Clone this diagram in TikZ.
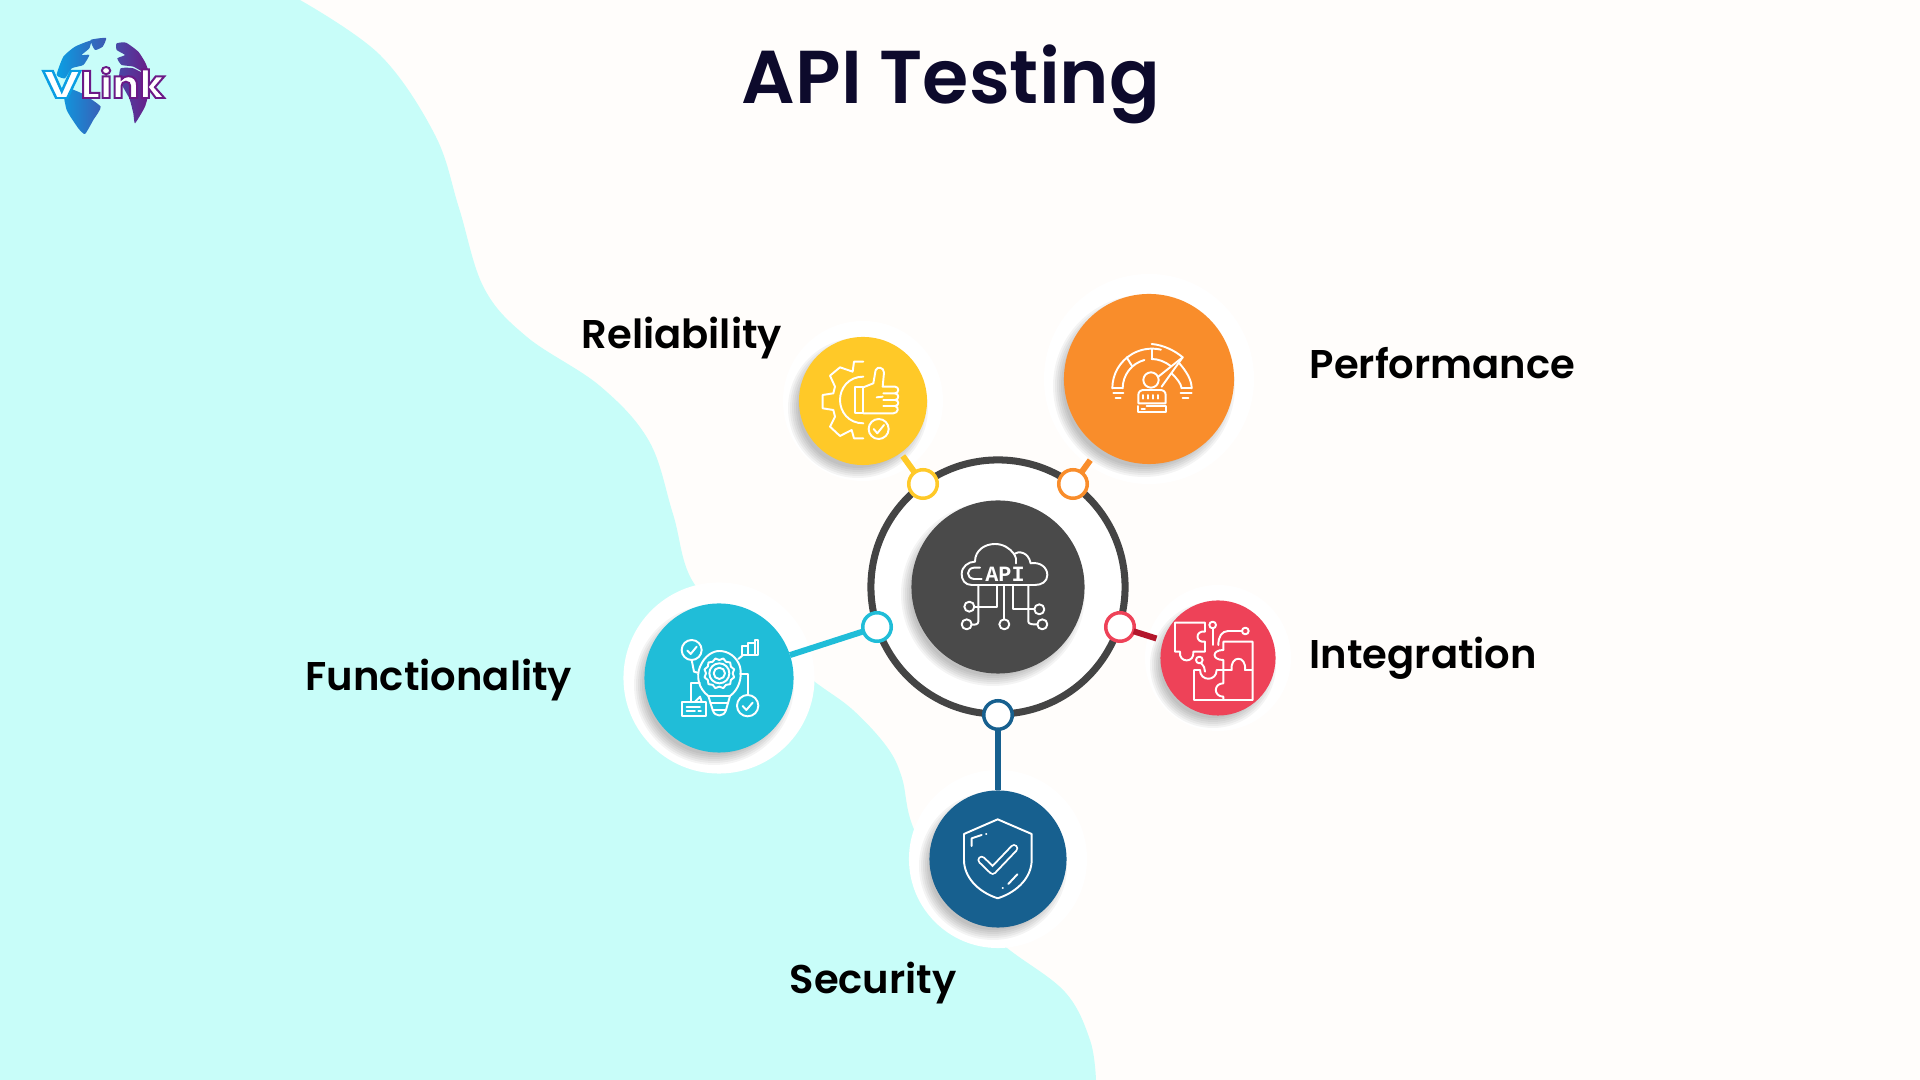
\documentclass[tikz,border=0pt]{standalone}
\usepackage{fontspec}
\usetikzlibrary{calc}
\setmainfont{Poppins}[BoldFont=Poppins SemiBold]
\newfontfamily\logofont{Poppins Bold}
\newfontfamily\apifont{Liberation Mono}
\definecolor{pagebg}{HTML}{FFFDFB}
\definecolor{mint}{HTML}{C8FDF9}
\definecolor{titleink}{HTML}{0D0A2C}
\definecolor{ringgrey}{HTML}{444444}
\definecolor{hubgrey}{HTML}{4A4A4A}
\definecolor{relyellow}{HTML}{FFC928}
\definecolor{perforange}{HTML}{F98D2B}
\definecolor{functeal}{HTML}{20BDD8}
\definecolor{integred}{HTML}{EE4258}
\definecolor{integdark}{HTML}{B3162B}
\definecolor{secblue}{HTML}{17608F}
\definecolor{logoblue}{HTML}{0A9FE3}
\definecolor{logopurple}{HTML}{6B1A86}
\tikzset{
	disc/.style={circle,inner sep=0pt,outer sep=0pt},
	halo/.style={disc,fill=white},
	joint/.style={disc,fill=white,line width=1pt,minimum size=.285cm},
	link/.style={line width=1.7pt},
	label/.style={anchor=base west,font=\bfseries\fontsize{11.4}{13}\selectfont,text=black},
	logotext/.style={inner sep=0pt,anchor=base west,text=white,font=\logofont\fontsize{11}{13}\selectfont},
	iconline/.style={draw=white,line width=.55pt,line cap=round,line join=round},
}
% soft shadow under a disc: x, y, radius
\newcommand{\softshadow}[3]{
	\foreach \k in {-4,-2,...,6}
		\fill[black,opacity=.045] (#1-5,#2+7) circle ({#3+\k});
}
% white letters with a stroked edge: r g b of the edge, text
\newcommand{\strokedtext}[2]{\special{pdf:code q 2 Tr 0.55 w #1 RG}#2\special{pdf:code Q}}
\begin{document}
\begin{tikzpicture}[x=.01cm,y=-.01cm]
	\useasboundingbox (0,0) rectangle (1920,1080);
	\fill[pagebg] (0,0) rectangle (1920,1080);
	% mint blob on the left
	\fill[mint] (0,0) -- plot[smooth,tension=.6] coordinates {(300,0) (380,55) (435,135) (459,208) (484,288) (527,337) (600,386) (649,441) (673,514) (695,585) (760,640) (815,682) (853,710) (887,747) (902,778) (913,827) (950,900) (1007,948) (1065,992) (1090,1040) (1096,1080)} -- (0,1080) -- cycle;

	% logo
	\begin{scope}[scale=1/3]
		\path[left color=logoblue,right color=logopurple]
			plot[smooth cycle,tension=.3] coordinates {(170,225) (190,170) (225,140) (272,122) (268,145) (245,165) (268,165) (250,195) (215,205) (195,235)}
			plot[smooth cycle,tension=.3] coordinates {(272,120) (318,114) (308,140) (285,150)}
			plot[smooth cycle,tension=.3] coordinates {(350,130) (378,128) (415,155) (437,190) (447,225) (400,200) (365,195) (352,175) (375,165) (350,150)}
			plot[smooth cycle,tension=.3] coordinates {(362,205) (400,205) (447,232) (448,270) (435,320) (405,370) (400,340) (388,295) (358,240)}
			plot[smooth cycle,tension=.3] coordinates {(190,262) (245,280) (302,320) (280,360) (255,402) (235,385) (200,330)};
	\end{scope}
	\node[logotext] (logov) at (42,98) {\scalebox{1.35}[1]{\strokedtext{0.04 0.62 0.89}{V}}};
	\node[logotext] (logolink) at (80,98) {\scalebox{1.05}[1]{\strokedtext{0.42 0.10 0.53}{Link}}};

	% title and labels
	\node[anchor=base,inner sep=0pt,text=titleink,font=\bfseries\fontsize{21.3}{26}\selectfont] (title) at (951,104) {API Testing};
	\node[label,inner sep=0pt] (lblrel) at (581,349) {Reliability};
	\node[label,inner sep=0pt] (lblperf) at (1309,379) {Performance};
	\node[label,inner sep=0pt] (lblinteg) at (1309,669) {Integration};
	\node[label,inner sep=0pt] (lblfunc) at (305,691) {Functionality};
	\node[label,inner sep=0pt] (lblsec) at (789,994) {Security};

	% white halos
	\node[halo,minimum size=1.91cm] (halofunc) at (719,678) {};
	\node[halo,minimum size=1.78cm] (halosec) at (998,859) {};
	\node[halo,minimum size=1.60cm] (halorel) at (863,401) {};
	\node[halo,minimum size=2.10cm] (haloperf) at (1149,379) {};
	\node[halo,minimum size=1.46cm] (halointeg) at (1218,658) {};

	% hub
	\node[disc,draw=ringgrey,fill=white,line width=2pt,minimum size=2.54cm] (ring) at (998,587) {};
	\softshadow{998}{587}{86}
	\node[disc,fill=hubgrey,minimum size=1.73cm] (hub) at (998,587) {};

	% topic discs
	\softshadow{863}{401}{64}
	\softshadow{1149}{379}{85}
	\softshadow{719}{678}{74}
	\softshadow{1218}{658}{57}
	\softshadow{998}{859}{68}
	\node[disc,fill=relyellow,minimum size=1.28cm] (rel) at (863,401) {};
	\node[disc,fill=perforange,minimum size=1.70cm] (perf) at (1149,379) {};
	\node[disc,fill=functeal,minimum size=1.49cm] (func) at (719,678) {};
	\node[disc,fill=integred,minimum size=1.15cm] (integ) at (1218,658) {};
	\node[disc,fill=secblue,minimum size=1.37cm] (sec) at (998,859) {};

	% joints on the ring
	\node[joint,draw=relyellow] (jrel) at (923,484) {};
	\node[joint,draw=perforange] (jperf) at (1073,484) {};
	\node[joint,draw=functeal] (jfunc) at (877,627) {};
	\node[joint,draw=integred] (jinteg) at (1120,627) {};
	\node[joint,draw=secblue] (jsec) at (998,715) {};

	% links
	\draw[link,relyellow,shorten >=1.1pt] (jrel) -- (rel);
	\draw[link,perforange,shorten >=4.3pt] (jperf) -- (perf);
	\draw[link,functeal] (jfunc) -- (func);
	\draw[link,integdark,shorten >=2pt] (jinteg) -- (integ);
	\draw[link,secblue] (jsec) -- (sec);

	% thumb and gear
	\begin{scope}[shift={(780,280)},scale=1/3]
		\draw[iconline] (250,245) -- (222,245) -- (218,275) -- (180,262) -- (150,287) -- (165,320) -- (160,340) -- (128,345) -- (128,385) -- (160,390) -- (165,410) -- (150,440) -- (180,468) -- (215,450) -- (222,475) -- (250,475);
		\draw[iconline] (250,290) .. controls (205,290) and (180,325) .. (180,360) .. controls (180,395) and (205,430) .. (250,430);
		\draw[iconline] (225,322) rectangle (250,400);
		\draw[iconline] (250,322) -- (280,310) -- (287,270) .. controls (292,258) and (312,262) .. (312,278) -- (308,320) -- (345,320) .. controls (358,320) and (358,340) .. (345,340) -- (310,340);
		\draw[iconline] (345,340) .. controls (358,340) and (358,360) .. (345,360) -- (310,360);
		\draw[iconline] (345,360) .. controls (358,360) and (358,378) .. (345,378) -- (310,378);
		\draw[iconline] (345,378) .. controls (358,380) and (355,400) .. (340,400) -- (250,400);
		\draw[iconline] (290,352) -- (308,350);
		\draw[iconline] (296,447) circle (30);
		\draw[iconline] (281,447) -- (292,460) -- (312,435);
	\end{scope}
	% gauge and person
	\begin{scope}[shift={(780,280)},scale=1/3]
		\draw[iconline] (997,325) arc[start angle=180,end angle=283,radius=119];
		\draw[iconline] (1028,325) arc[start angle=180,end angle=255,radius=88];
		\draw[iconline] (1115,207) -- (1115,237);
		\draw[iconline] (1040,232) -- (1056,258);
		\draw[iconline] (1115,237) .. controls (1135,237) and (1155,245) .. (1172,258);
		\draw[iconline] (1115,192) .. controls (1150,195) and (1185,212) .. (1208,232);
		\draw[iconline] (1198,250) .. controls (1220,275) and (1235,300) .. (1235,325);
		\draw[iconline] (1175,280) .. controls (1190,295) and (1203,310) .. (1205,325);
		\draw[iconline] (997,325) -- (1028,325);
		\draw[iconline] (1205,325) -- (1235,325);
		\draw[iconline] (1000,340) -- (1030,340);
		\draw[iconline] (1202,340) -- (1235,340);
		\draw[iconline] (1007,355) -- (1022,355);
		\draw[iconline] (1208,355) -- (1225,355);
		\draw[iconline] (1208,232) -- (1135,290);
		\draw[iconline] (1208,232) -- (1145,320);
		\draw[iconline] (1113,300) circle (23);
		\draw[iconline] (1075,370) -- (1075,345) .. controls (1075,335) and (1082,330) .. (1092,330) -- (1140,330) .. controls (1150,330) and (1157,335) .. (1157,345) -- (1157,370) -- cycle;
		\draw[iconline] (1075,378) -- (1075,397) -- (1158,397) -- (1158,378) -- (1100,378);
		\draw[iconline] (1085,388) -- (1095,388);
		\foreach \tx in {1090,1105,1120,1135}
			\draw[iconline] (\tx,345) -- (\tx,356);
	\end{scope}
	% bulb with gear
	\begin{scope}[shift={(620,480)},scale=1/3]
		\draw[iconline] (215,510) circle (30);
		\draw[iconline] (202,512) -- (212,522) -- (230,500);
		\draw[iconline] (215,540) -- (222,575) -- (232,578);
		\draw[iconline] (365,497) rectangle (385,525);
		\draw[iconline] (385,488) rectangle (405,525);
		\draw[iconline] (405,480) rectangle (415,525);
		\draw[iconline] (355,537) -- (368,526);
		\draw[iconline] (298,580) circle (17);
		\draw[iconline] (298,580) circle (30);
		\foreach \a in {0,30,...,330}
			\draw[iconline] ($(298,580)+(\a:40)$) -- ($(298,580)+(\a+15:46)$) -- ($(298,580)+(\a+30:40)$);
		\draw[iconline] (265,648) .. controls (235,625) and (228,590) .. (240,560) .. controls (255,525) and (280,513) .. (298,513) .. controls (325,513) and (350,530) .. (360,560) .. controls (368,595) and (355,630) .. (330,648);
		\draw[iconline] (265,648) -- (330,648) -- (318,690) .. controls (312,712) and (284,712) .. (278,690) -- cycle;
		\draw[iconline] (271,668) -- (324,668);
		\draw[iconline] (278,690) -- (318,690);
		\draw[iconline] (383,677) circle (32);
		\draw[iconline] (368,678) -- (379,690) -- (398,668);
		\draw[iconline] (383,645) -- (383,583) -- (360,583);
		\draw[iconline] (187,665) rectangle (257,707);
		\draw[iconline] (225,665) -- (240,650) -- (245,665);
		\draw[iconline] (200,680) -- (240,680);
		\draw[iconline] (200,693) -- (225,693);
		\draw[iconline] (235,693) -- (243,693);
		\draw[iconline] (213,665) -- (213,610) -- (240,610);
	\end{scope}
	% cloud with circuit
	\begin{scope}[shift={(900,480)},scale=1/3]
		\draw[iconline] (215,315) .. controls (195,315) and (185,300) .. (185,282) .. controls (185,260) and (205,245) .. (225,245) .. controls (225,210) and (255,192) .. (285,192) .. controls (310,192) and (330,205) .. (342,222) .. controls (355,212) and (385,215) .. (392,250) .. controls (420,245) and (442,262) .. (442,285) .. controls (442,305) and (425,315) .. (405,315) -- cycle;
		\draw[iconline] (342,222) .. controls (348,232) and (350,240) .. (348,250);
		\draw[iconline] (245,297) -- (222,297) .. controls (198,295) and (198,265) .. (222,263) -- (240,263);
		\draw[iconline] (235,315) -- (235,425) .. controls (235,433) and (225,435) .. (215,434);
		\draw[iconline] (200,433) circle (15);
		\draw[iconline] (290,315) -- (290,380) -- (223,380);
		\draw[iconline] (208,380) circle (15);
		\draw[iconline] (313,315) -- (313,418);
		\draw[iconline] (313,433) circle (15);
		\draw[iconline] (340,315) -- (340,388) -- (403,388);
		\draw[iconline] (418,388) circle (15);
		\draw[iconline] (385,315) -- (385,425) .. controls (385,433) and (400,434) .. (412,433);
		\draw[iconline] (427,433) circle (15);
		\node[text=white,inner sep=0pt,font=\apifont\bfseries\fontsize{6.2}{7}\selectfont] (apitext) at (315,283) {API};
	\end{scope}
	% puzzle
	\begin{scope}[shift={(900,480)},scale=1/3]
		\draw[iconline] (825,428) -- (915,428) -- (915,455) .. controls (885,450) and (885,490) .. (915,485) -- (915,515) -- (880,515) .. controls (885,550) and (835,550) .. (840,515) -- (825,515) -- cycle;
		\draw[iconline] (938,435) circle (10);
		\draw[iconline] (938,445) -- (938,495);
		\draw[iconline] (1036,453) circle (10);
		\draw[iconline] (1026,453) -- (985,453) .. controls (965,453) and (955,470) .. (955,495);
		\draw[iconline] (898,540) circle (10);
		\draw[iconline] (903,550) .. controls (912,558) and (915,565) .. (915,575);
		\draw[iconline] (970,510) -- (970,485) -- (1058,485) -- (1058,660) -- (882,660) -- (882,570) -- (900,570) .. controls (900,605) and (950,605) .. (950,570) -- (995,570) .. controls (990,525) and (1040,525) .. (1035,570) -- (1058,570);
		\draw[iconline] (970,510) .. controls (935,510) and (935,540) .. (970,540) -- (970,610) .. controls (940,610) and (940,650) .. (970,650) -- (970,660);
	\end{scope}
	% shield
	\begin{scope}[shift={(880,680)},scale=1/3]
		\draw[iconline] (353,418) -- (455,462) -- (455,540) .. controls (455,590) and (415,635) .. (353,655) .. controls (292,635) and (252,590) .. (252,540) -- (252,462) -- cycle;
		\draw[iconline] (275,498) -- (275,475) -- (305,465);
		\draw[iconline] (318,463) -- (319,463);
		\draw[iconline] (385,612) -- (412,583);
		\draw[iconline] (368,625) -- (369,625);
		\draw[white,line width=2.4pt,line cap=round,line join=round] (305,540) -- (338,572) -- (402,505);
		\draw[secblue,line width=1.3pt,line cap=round,line join=round] (305,540) -- (338,572) -- (402,505);
	\end{scope}
\end{tikzpicture}
\end{document}
